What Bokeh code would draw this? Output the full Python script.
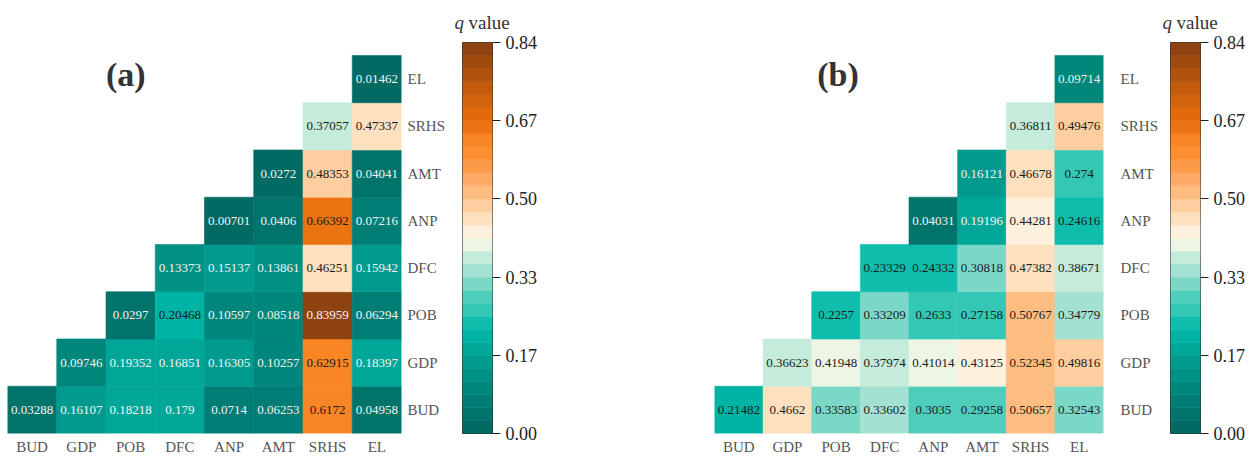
from bokeh.plotting import figure
from bokeh.layouts import row
from bokeh.models import (ColumnDataSource, LinearColorMapper, Label, Range1d,
                          FixedTicker)
from bokeh.core.properties import value
from bokeh.embed import file_html
from bokeh.resources import INLINE
import numpy as np

# ---------------- data ----------------
FACTORS = ["BUD", "GDP", "POB", "DFC", "ANP", "AMT", "SRHS", "EL"]

# panel (a): each row starts at the diagonal cell and runs to EL
A_BUD = [0.03288, 0.16107, 0.18218, 0.179, 0.0714, 0.06253, 0.6172, 0.04958]
A_GDP = [0.09746, 0.19352, 0.16851, 0.16305, 0.10257, 0.62915, 0.18397]
A_POB = [0.0297, 0.20468, 0.10597, 0.08518, 0.83959, 0.06294]
A_DFC = [0.13373, 0.15137, 0.13861, 0.46251, 0.15942]
A_ANP = [0.00701, 0.0406, 0.66392, 0.07216]
A_AMT = [0.0272, 0.48353, 0.04041]
A_SRHS = [0.37057, 0.47337]
A_EL = [0.01462]

# panel (b)
B_BUD = [0.21482, 0.4662, 0.33583, 0.33602, 0.3035, 0.29258, 0.50657, 0.32543]
B_GDP = [0.36623, 0.41948, 0.37974, 0.41014, 0.43125, 0.52345, 0.49816]
B_POB = [0.2257, 0.33209, 0.2633, 0.27158, 0.50767, 0.34779]
B_DFC = [0.23329, 0.24332, 0.30818, 0.47382, 0.38671]
B_ANP = [0.04031, 0.19196, 0.44281, 0.24616]
B_AMT = [0.16121, 0.46678, 0.274]
B_SRHS = [0.36811, 0.49476]
B_EL = [0.09714]

A_ROWS = [A_BUD, A_GDP, A_POB, A_DFC, A_ANP, A_AMT, A_SRHS, A_EL]
B_ROWS = [B_BUD, B_GDP, B_POB, B_DFC, B_ANP, B_AMT, B_SRHS, B_EL]

Q_MAX = 0.84
CB_TICKS = [0.0, 0.168, 0.336, 0.504, 0.672, 0.84]
CB_LABELS = ["0.00", "0.17", "0.33", "0.50", "0.67", "0.84"]

# ---------------- style ----------------
PALETTE = [
    "#006a63", "#00736b", "#007d74", "#00877c", "#009185", "#009b8e",
    "#00a698", "#00b4a5", "#0fbdac", "#33c7b5", "#4ecdbb", "#7bd8c7",
    "#a3e2d2", "#c5ebdb", "#edf5e4", "#fdf0dc", "#fde0bd", "#fdcea0",
    "#fdbd80", "#fdab66", "#fd9a48", "#fd8f32", "#fa8524", "#ec7311",
    "#e16a0c", "#d3630c", "#c25b0c", "#b1530d", "#a04b0e", "#8e4310",
]
SERIF = "Liberation Serif"
H = 457
TOP = 42
BOTTOM = 23
Y_TOP = 8.2744   # leaves headroom above the matrix for the panel tag
mapper = LinearColorMapper(palette=PALETTE, low=0, high=Q_MAX)
N = len(FACTORS)
CENTERS = [i + 0.5 for i in range(N)]


def build_source(rows):
    xs, ys, vs, ts, tc = [], [], [], [], []
    for i, vals in enumerate(rows):
        for k, v in enumerate(vals):
            xs.append(CENTERS[i + k])
            ys.append(CENTERS[i])
            vs.append(v)
            ts.append(str(v))
            tc.append("#f4f4f4" if (v < 0.2 or v > 0.8) else "#1a1a1a")
    return ColumnDataSource(dict(x=xs, y=ys, v=vs, t=ts, tc=tc))


def matrix_fig(rows, tag, tag_x, width, b_left, b_right, y_standoff):
    p = figure(x_range=Range1d(0, N), y_range=Range1d(0, Y_TOP),
               width=width, height=H, y_axis_location="right",
               output_backend="svg", toolbar_location=None,
               min_border_left=b_left, min_border_right=b_right,
               min_border_top=TOP, min_border_bottom=BOTTOM)
    p.outline_line_color = None
    p.grid.visible = False
    src = build_source(rows)
    p.rect(x="x", y="y", width=1, height=1, source=src,
           fill_color={"field": "v", "transform": mapper},
           line_color={"field": "v", "transform": mapper}, line_width=0.6)
    p.text(x="x", y="y", text="t", text_color="tc", source=src,
           text_font=value(SERIF), text_font_size="13px",
           text_align="center", text_baseline="middle")
    labels = {c: f for c, f in zip(CENTERS, FACTORS)}
    for ax in (p.xaxis[0], p.yaxis[0]):
        ax.ticker = FixedTicker(ticks=CENTERS)
        ax.major_label_overrides = labels
        ax.axis_line_color = None
        ax.major_tick_line_color = None
        ax.minor_tick_line_color = None
        ax.major_tick_in = 0
        ax.major_tick_out = 0
        ax.major_label_text_font = SERIF
        ax.major_label_text_font_size = "15px"
        ax.major_label_text_color = "#555555"
    p.xaxis.major_label_standoff = 5
    p.yaxis.major_label_standoff = y_standoff
    p.add_layout(Label(x=tag_x, y=7.6, text=tag, text_font=SERIF,
                       text_font_size="34px", text_font_style="bold",
                       text_color="#333333", text_align="center",
                       text_baseline="middle"))
    return p


def colorbar_fig(width, b_left, b_right, q_offset):
    p = figure(x_range=Range1d(0, 1), y_range=Range1d(0, Q_MAX),
               width=width, height=H, y_axis_location="right",
               output_backend="svg", toolbar_location=None,
               min_border_left=b_left, min_border_right=b_right,
               min_border_top=TOP, min_border_bottom=BOTTOM)
    p.grid.visible = False
    p.xaxis.visible = False
    edges = np.linspace(0, Q_MAX, len(PALETTE) + 1)
    p.quad(left=0, right=1, bottom=edges[:-1], top=edges[1:],
           fill_color=PALETTE, line_color=PALETTE, line_width=0.5)
    p.outline_line_color = "#333333"
    p.outline_line_width = 1
    ax = p.yaxis[0]
    ax.ticker = FixedTicker(ticks=CB_TICKS)
    ax.major_label_overrides = {t: l for t, l in zip(CB_TICKS, CB_LABELS)}
    ax.axis_line_color = None
    ax.minor_tick_line_color = None
    ax.major_tick_in = 0
    ax.major_tick_out = 8
    ax.major_tick_line_color = "#222222"
    ax.major_label_standoff = 5
    ax.major_label_text_font = SERIF
    ax.major_label_text_font_size = "18px"
    ax.major_label_text_color = "#222222"
    # colour-bar title, placed in the panel above the bar (not clipped)
    p.add_layout(Label(x=0, y=Q_MAX, x_offset=q_offset, y_offset=20, text="q",
                       text_font=SERIF, text_font_size="19px",
                       text_font_style="italic", text_color="#333333",
                       text_align="left", text_baseline="middle"), "above")
    p.add_layout(Label(x=0, y=Q_MAX, x_offset=q_offset + 14, y_offset=20,
                       text="value", text_font=SERIF, text_font_size="19px",
                       text_color="#333333",
                       text_align="left", text_baseline="middle"), "above")
    return p


pa = matrix_fig(A_ROWS, "(a)", 2.40, 454, 7, 53, 6)
ca = colorbar_fig(86, 8, 48, -8)
pb = matrix_fig(B_ROWS, "(b)", 2.54, 621, 174, 56, 17)
cb = colorbar_fig(94, 9, 55, -8)

layout = row(pa, ca, pb, cb)
open("out.html", "w").write(file_html(layout, INLINE))
